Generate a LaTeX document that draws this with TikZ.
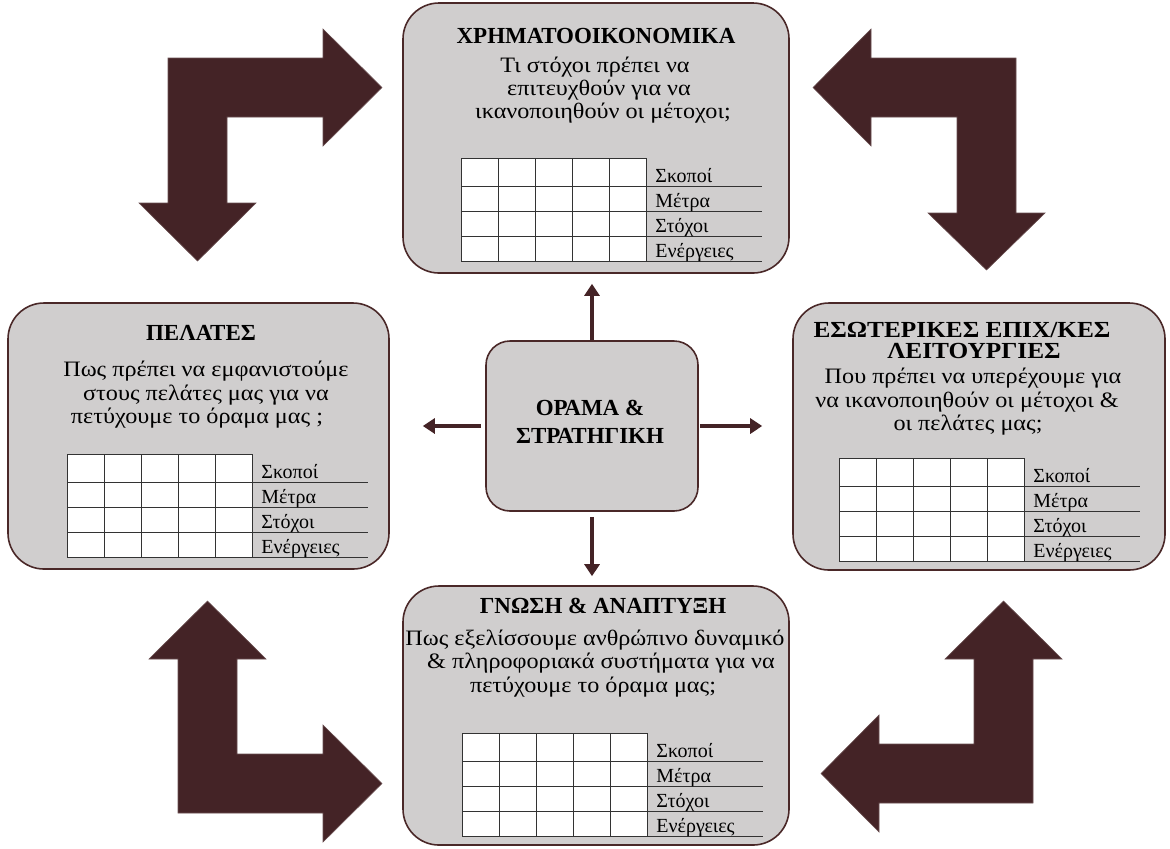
\documentclass[tikz,border=0pt]{standalone}
\usepackage{fontspec}
\setmainfont{Liberation Serif}
\newfontfamily\widefam[FakeStretch=1.1]{Liberation Serif}
\usetikzlibrary{arrows.meta}
\definecolor{umber}{HTML}{442326}
\definecolor{cardfill}{HTML}{D0CECE}
\definecolor{cardline}{HTML}{4A2828}
\tikzset{
  card/.style={draw=cardline, line width=0.8pt, fill=cardfill, rounded corners=18pt, inner sep=0pt},
  hub/.style={card, rounded corners=12pt},
  bigarrow/.style={fill=umber, draw=umber!80!white, line width=0.3pt},
  link/.style={draw=umber, line width=2.2pt, -{Triangle[length=6pt,width=7.5pt]}},
  head/.style={font=\fontsize{11.5}{12}\selectfont\bfseries, anchor=base, inner sep=0pt},
  widehead/.style={head, font=\widefam\fontsize{11.5}{12}\selectfont\bfseries},
  body/.style={font=\widefam\fontsize{11}{12}\selectfont, anchor=base, inner sep=0pt},
  lbl/.style={font=\fontsize{10}{11}\selectfont, anchor=base west, inner sep=0pt},
  gridline/.style={draw=black!80, line width=0.5pt},
  scoregrid/.pic={
    \fill[white] (0,0) rectangle (185,103);
    \foreach \c in {0,37,74,111,148,185} \draw[gridline] (\c,0) -- (\c,103);
    \foreach \r in {0,28,53,78,103} \draw[gridline] (0,\r) -- (185,\r);
    \foreach \r in {28,53,78,103} \draw[gridline] (185,\r) -- (301,\r);
    \node[lbl] (-goals) at (194,24) {Σκοποί};
    \node[lbl] (-measures) at (194,49) {Μέτρα};
    \node[lbl] (-targets) at (194,74) {Στόχοι};
    \node[lbl] (-actions) at (194,99) {Ενέργειες};
  }
}
\begin{document}
\begin{tikzpicture}[x=0.5pt, y=-0.5pt]
\useasboundingbox (0,0) rectangle (1170,848);

% bent arrows in the four corners
\fill[bigarrow] (168,58) -- (323,58) -- (323,29) -- (382,87.5) -- (323,146) -- (323,117)
  -- (227,117) -- (227,203) -- (256,203) -- (197.5,261) -- (139,203) -- (168,203) -- cycle;
\fill[bigarrow] (1016,58) -- (871,58) -- (871,29) -- (813,87.5) -- (871,146) -- (871,117)
  -- (957,117) -- (957,213) -- (928,213) -- (986.5,270) -- (1045,213) -- (1016,213) -- cycle;
\fill[bigarrow] (178,813) -- (178,659) -- (149,659) -- (207.5,601) -- (266,659) -- (237,659)
  -- (237,754) -- (323,754) -- (323,725) -- (382,783.5) -- (323,842) -- (323,813) -- cycle;
\fill[bigarrow] (1033,803) -- (1033,659) -- (1062,659) -- (1003.5,601) -- (945,659) -- (974,659)
  -- (974,744) -- (879,744) -- (879,715) -- (821,773.5) -- (879,832) -- (879,803) -- cycle;

% perspective cards
\node[card, minimum width=193pt, minimum height=135pt] (fin) at (596,138) {};
\node[card, minimum width=190.5pt, minimum height=133pt] (cust) at (198.5,436) {};
\node[card, minimum width=186pt, minimum height=133.5pt] (proc) at (979,436.5) {};
\node[card, minimum width=193pt, minimum height=129.5pt] (learn) at (596,715.5) {};
\node[hub, minimum width=106pt, minimum height=85pt] (vision) at (592,426) {};

% financial
\node[head] (finh) at (596,43) {ΧΡΗΜΑΤΟΟΙΚΟΝΟΜΙΚΑ};
\node[body] (fin1) at (595,72) {Τι στόχοι πρέπει να};
\node[body] (fin2) at (599,95) {επιτευχθούν για να};
\node[body] (fin3) at (603,118) {ικανοποιηθούν οι μέτοχοι;};
\pic at (461,158) {scoregrid};

% customers
\node[head] (custh) at (201,340) {ΠΕΛΑΤΕΣ};
\node[body] (cust1) at (206,376) {Πως πρέπει να εμφανιστούμε};
\node[body] (cust2) at (206,400) {στους πελάτες μας για να};
\node[body] (cust3) at (197,423) {πετύχουμε το όραμα μας ;};
\pic at (67,454) {scoregrid};

% internal processes
\node[widehead] (proch1) at (962,337) {ΕΣΩΤΕΡΙΚΕΣ ΕΠΙΧ/ΚΕΣ};
\node[widehead] (proch2) at (974,358) {ΛΕΙΤΟΥΡΓΙΕΣ};
\node[body] (proc1) at (973,383) {Που πρέπει να υπερέχουμε για};
\node[body] (proc2) at (967,407) {να ικανοποιηθούν οι μέτοχοι \&};
\node[body] (proc3) at (968,430) {οι πελάτες μας;};
\pic at (839,458) {scoregrid};

% learning and growth
\node[head] (learnh) at (603,613) {ΓΝΩΣΗ \& ΑΝΑΠΤΥΞΗ};
\node[body] (learn1) at (595,645) {Πως εξελίσσουμε ανθρώπινο δυναμικό};
\node[body] (learn2) at (601,668) {\& πληροφοριακά συστήματα για να};
\node[body] (learn3) at (593,692) {πετύχουμε το όραμα μας;};
\pic at (462,733) {scoregrid};

% vision and strategy
\node[head] (vis1) at (590,415) {ΟΡΑΜΑ \&};
\node[head] (vis2) at (590,443) {ΣΤΡΑΤΗΓΙΚΗ};

% links from the centre
\draw[link, shorten >=5pt] (vision.north) -- (vision.north |- fin.south);
\draw[link, shorten <=2pt, shorten >=16.5pt] (vision.west) -- (vision.west -| cust.east);
\draw[link, shorten <=0.5pt, shorten >=15pt] (vision.east) -- (vision.east -| proc.west);
\draw[link, shorten <=2.5pt, shorten >=4.5pt] (vision.south) -- (vision.south |- learn.north);
\end{tikzpicture}
\end{document}
